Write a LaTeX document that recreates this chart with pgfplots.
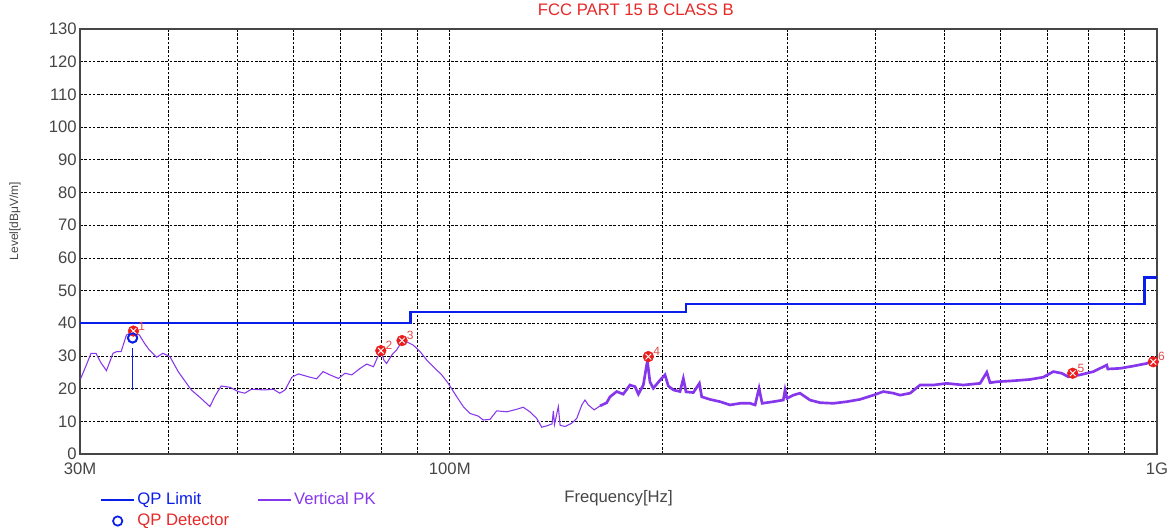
\documentclass[border=0pt]{standalone}
\usepackage{pgfplots}
\pgfplotsset{compat=1.18}
\usepackage{fontspec}
\setmainfont{Liberation Sans}
\definecolor{limitblue}{RGB}{10,30,235}
\definecolor{tracepurple}{RGB}{135,55,235}
\definecolor{mkred}{RGB}{235,30,30}
\definecolor{lblred}{RGB}{225,75,75}
\definecolor{ttlred}{RGB}{230,40,40}
\definecolor{axgray}{RGB}{70,70,70}

\pgfplotstableread{
f L
30.07 23.1
30.6 27.0
31.1 30.8
31.6 30.8
32.1 28.0
32.7 25.5
33.4 30.8
33.8 31.3
34.3 31.3
34.9 36.4
35.7 37.4
36.4 36.4
37.0 33.9
37.6 31.8
38.5 29.6
39.3 30.8
40.2 29.8
41.3 25.2
43.1 19.6
44.5 17.0
45.8 14.5
46.5 17.5
47.5 20.8
48.9 20.4
50.2 19.1
51.3 18.6
52.4 19.8
54.7 19.6
56.3 19.8
57.5 18.6
58.5 19.6
59.8 23.5
61.1 24.5
63.4 23.5
64.8 23.0
66.2 25.2
67.7 24.2
69.6 23.1
71.1 24.7
72.7 24.2
74.7 26.2
76.3 27.5
78.0 26.7
79.2 30.0
79.9 31.8
80.7 28.7
81.4 27.7
82.8 30.3
84.1 31.8
85.5 34.3
86.9 34.3
88.8 33.3
90.8 31.3
92.8 28.7
95.3 26.2
97.4 24.2
99.5 21.6
102.3 17.5
104.5 14.5
106.8 12.4
109.7 11.6
111.5 10.4
114.0 10.6
116.5 13.2
120.4 12.9
124.4 13.7
127.0 14.3
129.8 12.9
132.7 10.9
134.9 8.2
137.1 8.6
139.5 9.2
140.1 13.2
140.6 9.0
142.4 14.5
143.2 8.8
145.5 8.4
148.7 9.4
151.2 10.9
153.7 15.0
155.3 16.5
157.0 15.0
160.0 13.5
163.1 14.7
}\pkA

\pgfplotstableread{
f L
163.1 14.7
166.7 15.7
168.5 17.5
172.2 19.1
175.9 18.3
179.8 21.1
182.8 20.6
184.8 18.3
187.8 21.1
190.3 28.5
191.9 22.1
194.0 20.1
198.3 22.6
201.5 24.2
203.7 20.8
207.1 19.6
211.6 19.1
213.9 23.1
215.8 19.0
221.0 18.8
225.4 21.6
227.1 17.5
233.3 16.7
241.1 16.0
249.0 15.0
257.3 15.5
265.8 15.5
270.2 15.0
273.7 20.1
276.5 15.5
286.7 16.0
296.2 16.5
297.9 19.6
299.8 17.0
306.0 18.0
312.7 18.6
323.1 16.5
333.8 15.7
348.6 15.5
364.2 16.0
380.2 16.7
397.3 18.0
410.2 19.1
423.8 18.6
433.2 18.0
447.6 18.6
462.4 21.1
482.8 21.1
504.2 21.6
532.2 21.1
562.1 21.6
574.6 25.0
580.7 21.8
593.5 22.1
626.4 22.4
661.3 22.8
690.6 23.5
713.5 25.2
733.3 24.7
749.2 23.6
778.3 24.2
812.8 25.2
849.0 27.2
852.0 26.0
886.5 26.2
925.8 26.9
966.9 27.7
993.3 28.5
1000 28.2
}\pkB

\pgfplotstableread{
f L lbl
35.7 37.6 1
79.9 31.6 2
85.6 34.7 3
190.9 29.8 4
760 24.7 5
988 28.2 6
}\markers

\begin{document}
\begin{tikzpicture}
\begin{axis}[
  scale only axis,
  width=807.75pt, height=318.75pt,
  xmode=log, log basis x=10,
  xmin=30, xmax=1000, ymin=0, ymax=130,
  xtick={30,100,1000},
  xticklabels={30M,100M,1G},
  minor xtick={40,50,60,70,80,90,200,300,400,500,600,700,800,900},
  ytick={0,10,...,130},
  major tick length=0pt, minor tick length=0pt,
  grid=both,
  major grid style={black, line width=0.5pt, dash pattern=on 2pt off 1.2pt},
  minor grid style={black, line width=0.5pt, dash pattern=on 2pt off 1.2pt},
  axis line style={axgray, line width=0.9pt},
  tick label style={font=\fontsize{12.5}{15}\selectfont, text=axgray},
  yticklabel style={xshift=1pt},
  xticklabel style={yshift=-3pt},
  /pgf/number format/assume math mode=true,
  log ticks with fixed point,
  clip=false,
  legend columns=2,
  legend cell align=left,
  legend style={draw=none, fill=none, inner sep=0pt, row sep=2.5pt,
    at={(axis description cs:0.0186,-0.086)}, anchor=north west,
    font=\fontsize{12.5}{15}\selectfont,
    /tikz/every even column/.append style={column sep=19pt},
    nodes={inner sep=1.5pt}},
  legend image code/.code={\draw[mark repeat=2,mark phase=2,#1] plot coordinates {(0cm,0cm) (0.43cm,0cm) (0.87cm,0cm)};},
]
\addplot[limitblue, line width=1.6pt, const plot] coordinates {
  (30,40) (88,43.5) (216,46) (960,54) (1000,54)};
\addlegendentry{\textcolor{limitblue}{QP Limit}}
\addplot[tracepurple, line width=2pt] table[x=f,y=L] {\pkB};
\addlegendentry{\textcolor{tracepurple}{Vertical PK}}
\addplot[only marks, mark=o, limitblue, mark size=3.5pt, line width=1.3pt] coordinates {(35.6,35.5)};
\addlegendentry{\textcolor{ttlred}{QP Detector}}
\addplot[tracepurple, line width=0.8pt, forget plot] table[x=f,y=L] {\pkA};
\addplot[limitblue, line width=0.7pt, forget plot] coordinates {(35.6,19.6) (35.6,32.3)};
\addplot[only marks, mark=*, mark options={draw=mkred, fill=mkred}, mark size=4pt, forget plot]
  table[x=f, y=L] {\markers};
\addplot[only marks, mark=x, white, mark size=3pt, line width=0.7pt, forget plot,
  point meta=explicit symbolic,
  nodes near coords,
  every node near coord/.style={anchor=south west, text=lblred, font=\fontsize{9}{10}\selectfont, xshift=0pt, yshift=-3pt}]
  table[x=f, y=L, meta=lbl] {\markers};
\addplot[only marks, mark=o, limitblue, mark size=3.5pt, line width=1.3pt, forget plot] coordinates {(35.6,35.5)};
\coordinate (SW) at (rel axis cs:0,0);
\coordinate (NE) at (rel axis cs:1,1);
\node[text=ttlred, font=\fontsize{12.5}{15}\selectfont] at ([xshift=13pt,yshift=14.25pt]rel axis cs:0.5,1) {FCC PART 15 B CLASS B};
\node[text=axgray, font=\fontsize{12.5}{15}\selectfont] at ([yshift=-33pt]rel axis cs:0.5,0) {Frequency[Hz]};
\node[text=axgray, rotate=90, font=\fontsize{9}{11}\selectfont] at ([xshift=-48.75pt]rel axis cs:0,0.548) {Level[dBμV/m]};
\end{axis}
\pgfresetboundingbox
\path ([shift={(-60pt,-55.5pt)}]SW) rectangle ([shift={(8.25pt,21.75pt)}]NE);
\end{tikzpicture}
\end{document}
